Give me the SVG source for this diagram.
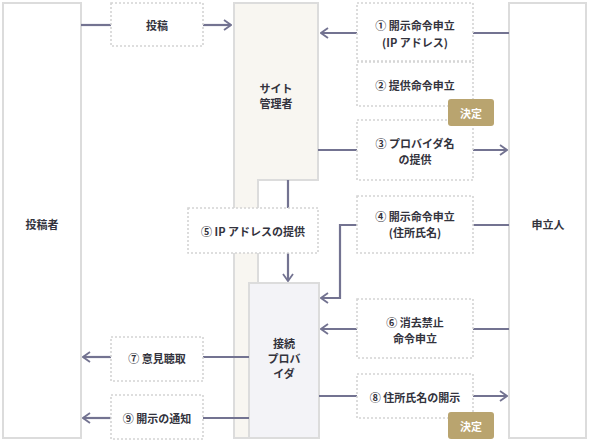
<svg xmlns="http://www.w3.org/2000/svg" width="590" height="443" viewBox="0 0 590 443">
<style>
text{font-family:"Noto Sans CJK JP","Noto Sans",sans-serif;font-size:11px;font-weight:600;fill:#33333d;text-anchor:middle;dominant-baseline:central}
.box{fill:#fff;stroke:#d4d4d4;stroke-width:1.6;stroke-dasharray:2 2}
.node{fill:#fff;stroke:#dcdcdc;stroke-width:2}
.badge{fill:#b9a46f}
.badge-t{fill:#fff}
.c{fill:none;stroke:#737391;stroke-width:2.2}
</style>
<defs>
<marker id="ah" viewBox="0 0 10 12" markerWidth="10" markerHeight="12" refX="9" refY="6" orient="auto" markerUnits="userSpaceOnUse">
<path d="M2,1 L9,6 L2,11" fill="none" stroke="#737391" stroke-width="1.8"/>
</marker>
</defs>
<rect width="590" height="443" fill="#fff"/>
<g id="poster"><rect class="node" x="3" y="3" width="78" height="435"/><text x="42" y="224">投稿者</text></g>
<g id="applicant"><rect class="node" x="509" y="3" width="77" height="435"/><text x="548" y="224">申立人</text></g>
<g id="site-admin"><path d="M234,3 H318 V180 H258 V438 H234 Z" fill="#f8f6f1" stroke="#dcdcdc" stroke-width="2"/><text x="276" y="88">サイト</text><text x="276" y="103">管理者</text></g>
<g id="provider"><rect x="249" y="283" width="70" height="155" fill="#f3f3f7" stroke="#dcdcdc" stroke-width="2"/><text x="284" y="343">接続</text><text x="284" y="358">プロバ</text><text x="284" y="373">イダ</text></g>
<g id="connectors">
<path class="c" d="M81,25 H111"/><path class="c" d="M203,25 H231" marker-end="url(#ah)"/>
<path class="c" d="M509,33 H473"/><path class="c" d="M357,33 H321" marker-end="url(#ah)"/>
<path class="c" d="M318,150 H357"/><path class="c" d="M473,150 H507" marker-end="url(#ah)"/>
<path class="c" d="M509,225 H473"/><path class="c" d="M357,225 H340 V298 H321" marker-end="url(#ah)"/>
<path class="c" d="M288,180 V208"/><path class="c" d="M288,253 V281" marker-end="url(#ah)"/>
<path class="c" d="M509,329 H473"/><path class="c" d="M357,329 H321" marker-end="url(#ah)"/>
<path class="c" d="M319,396 H357"/><path class="c" d="M473,396 H507" marker-end="url(#ah)"/>
<path class="c" d="M249,357 H203"/><path class="c" d="M111,357 H83" marker-end="url(#ah)"/>
<path class="c" d="M249,418 H203"/><path class="c" d="M111,418 H83" marker-end="url(#ah)"/>
</g>
<g id="label-post"><rect class="box" x="111" y="3" width="92" height="43"/><text x="157" y="25">投稿</text></g>
<g id="label-1"><rect class="box" x="357" y="3" width="116" height="58"/><text x="415" y="25">① 開示命令申立</text><text x="415" y="42">(IP アドレス)</text></g>
<g id="label-2"><rect class="box" x="357" y="62" width="116" height="44"/><text x="415" y="85">② 提供命令申立</text></g>
<g id="label-3"><rect class="box" x="357" y="120" width="116" height="60"/><text x="415" y="143">③ プロバイダ名</text><text x="415" y="159">の提供</text></g>
<g id="label-4"><rect class="box" x="357" y="196" width="116" height="57"/><text x="415" y="216">④ 開示命令申立</text><text x="415" y="232">(住所氏名)</text></g>
<g id="label-5"><rect class="box" x="188" y="208" width="130" height="45"/><text x="253" y="231">⑤ IP アドレスの提供</text></g>
<g id="label-6"><rect class="box" x="357" y="299" width="116" height="59"/><text x="415" y="322">⑥ 消去禁止</text><text x="415" y="338">命令申立</text></g>
<g id="label-7"><rect class="box" x="111" y="337" width="92" height="44"/><text x="157" y="358">⑦ 意見聴取</text></g>
<g id="label-8"><rect class="box" x="357" y="374" width="116" height="44"/><text x="415" y="397">⑧ 住所氏名の開示</text></g>
<g id="label-9"><rect class="box" x="111" y="395" width="92" height="44"/><text x="157" y="418">⑨ 開示の通知</text></g>
<g id="badge-1"><rect class="badge" x="448" y="99" width="46" height="27" rx="3"/><text class="badge-t" x="471" y="113">決定</text></g>
<g id="badge-2"><rect class="badge" x="448" y="412" width="46" height="27" rx="3"/><text class="badge-t" x="471" y="426">決定</text></g>
</svg>
